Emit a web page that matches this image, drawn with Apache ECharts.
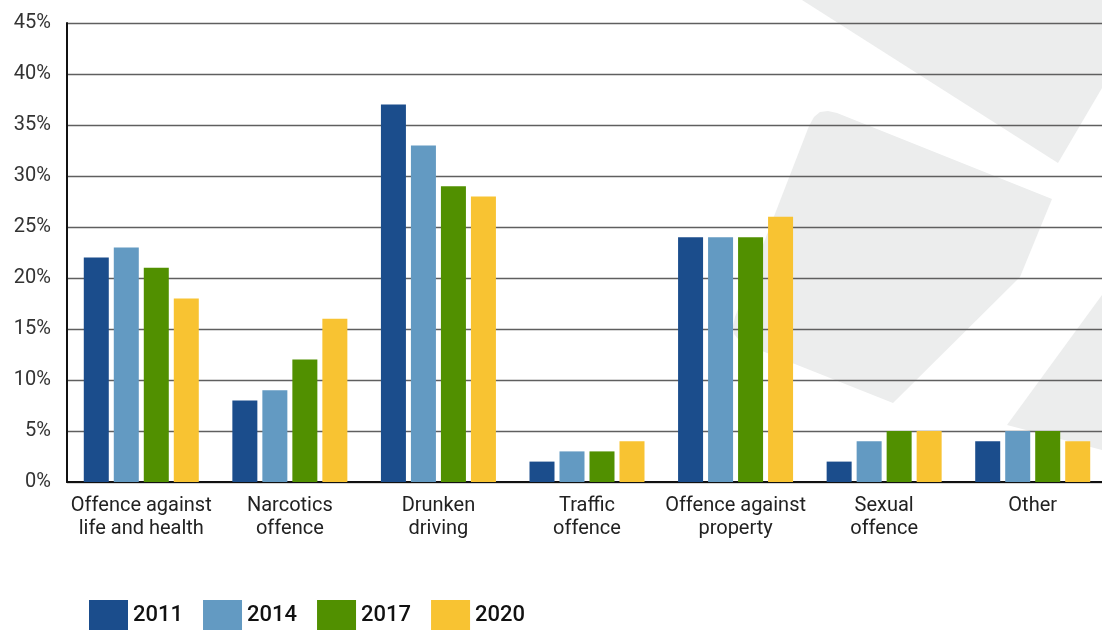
<!DOCTYPE html>
<html>
<head>
<meta charset="utf-8">
<script src="https://cdn.jsdelivr.net/npm/echarts@6/dist/echarts.min.js"></script>
<style>
  html, body { margin: 0; padding: 0; background: #fff; }
  #echarts { width: 1102px; height: 630px; }
</style>
</head>
<body>
<div id="echarts"></div>
<script>
var categories = ['Offence against\nlife and health', 'Narcotics\noffence', 'Drunken\ndriving',
  'Traffic\noffence', 'Offence against\nproperty', 'Sexual\noffence', 'Other'];
var years = ['2011', '2014', '2017', '2020'];
var data2011 = [22, 8, 37, 2, 24, 2, 4];
var data2014 = [23, 9, 33, 3, 24, 4, 5];
var data2017 = [21, 12, 29, 3, 24, 5, 5];
var data2020 = [18, 16, 28, 4, 26, 5, 4];
var colors = ['#1b4d8c', '#639ac2', '#519000', '#f8c332'];

var myChart = echarts.init(document.getElementById('echarts'));

// grey background shapes (decoration only)
var shapeGrey = '#eceded';
var graphics = [
  { type: 'polygon', silent: true, z: -10,
    shape: { points: [[802, 0], [1102, 0], [1102, 88], [1058, 163]] },
    style: { fill: shapeGrey } },
  { type: 'polygon', silent: true, z: -10,
    shape: { points: [[837, 113], [1052, 199], [1020, 277], [893, 403], [747, 345], [739, 340],
      [734, 334], [733, 326], [735, 317], [809, 126], [814, 117], [820, 112], [828, 111]] },
    style: { fill: shapeGrey } },
  { type: 'polygon', silent: true, z: -10,
    shape: { points: [[1102, 295], [1007, 425], [1102, 450]] },
    style: { fill: shapeGrey } }
];

function mk(i, d) {
  return {
    name: years[i],
    type: 'bar',
    data: d,
    barWidth: 25,
    barGap: '20%',
    itemStyle: { color: colors[i] }
  };
}

var option = {
  backgroundColor: '#fff',
  animation: false,
  textStyle: { fontFamily: 'Roboto' },
  graphic: graphics,
  // plot runs a bit past the right edge, like the original
  grid: { left: 67, width: 1040, top: 23, bottom: 148, outerBoundsMode: 'none', containLabel: false },
  legend: {
    data: years,
    left: 89,
    top: 600,
    padding: 0,
    itemWidth: 39,
    itemHeight: 30,
    itemGap: 20,
    icon: 'rect',
    textStyle: { fontSize: 22, fontWeight: 500, color: '#111', padding: [14, 0, 0, 0] }
  },
  xAxis: {
    type: 'category',
    data: categories,
    axisLine: { lineStyle: { color: '#111', width: 2 } },
    axisTick: { show: false },
    axisLabel: { fontSize: 20, color: '#222', lineHeight: 23, margin: 12, interval: 0 }
  },
  yAxis: {
    type: 'value',
    min: 0,
    max: 45,
    interval: 5,
    axisLine: { show: true, lineStyle: { color: '#111', width: 2 } },
    axisTick: { show: false },
    axisLabel: { fontSize: 20, color: '#333', margin: 16, formatter: '{value}%' },
    splitLine: { lineStyle: { color: '#5f5f5f', width: 1.3 } }
  },
  series: [mk(0, data2011), mk(1, data2014), mk(2, data2017), mk(3, data2020)]
};

myChart.setOption(option);
</script>
</body>
</html>
